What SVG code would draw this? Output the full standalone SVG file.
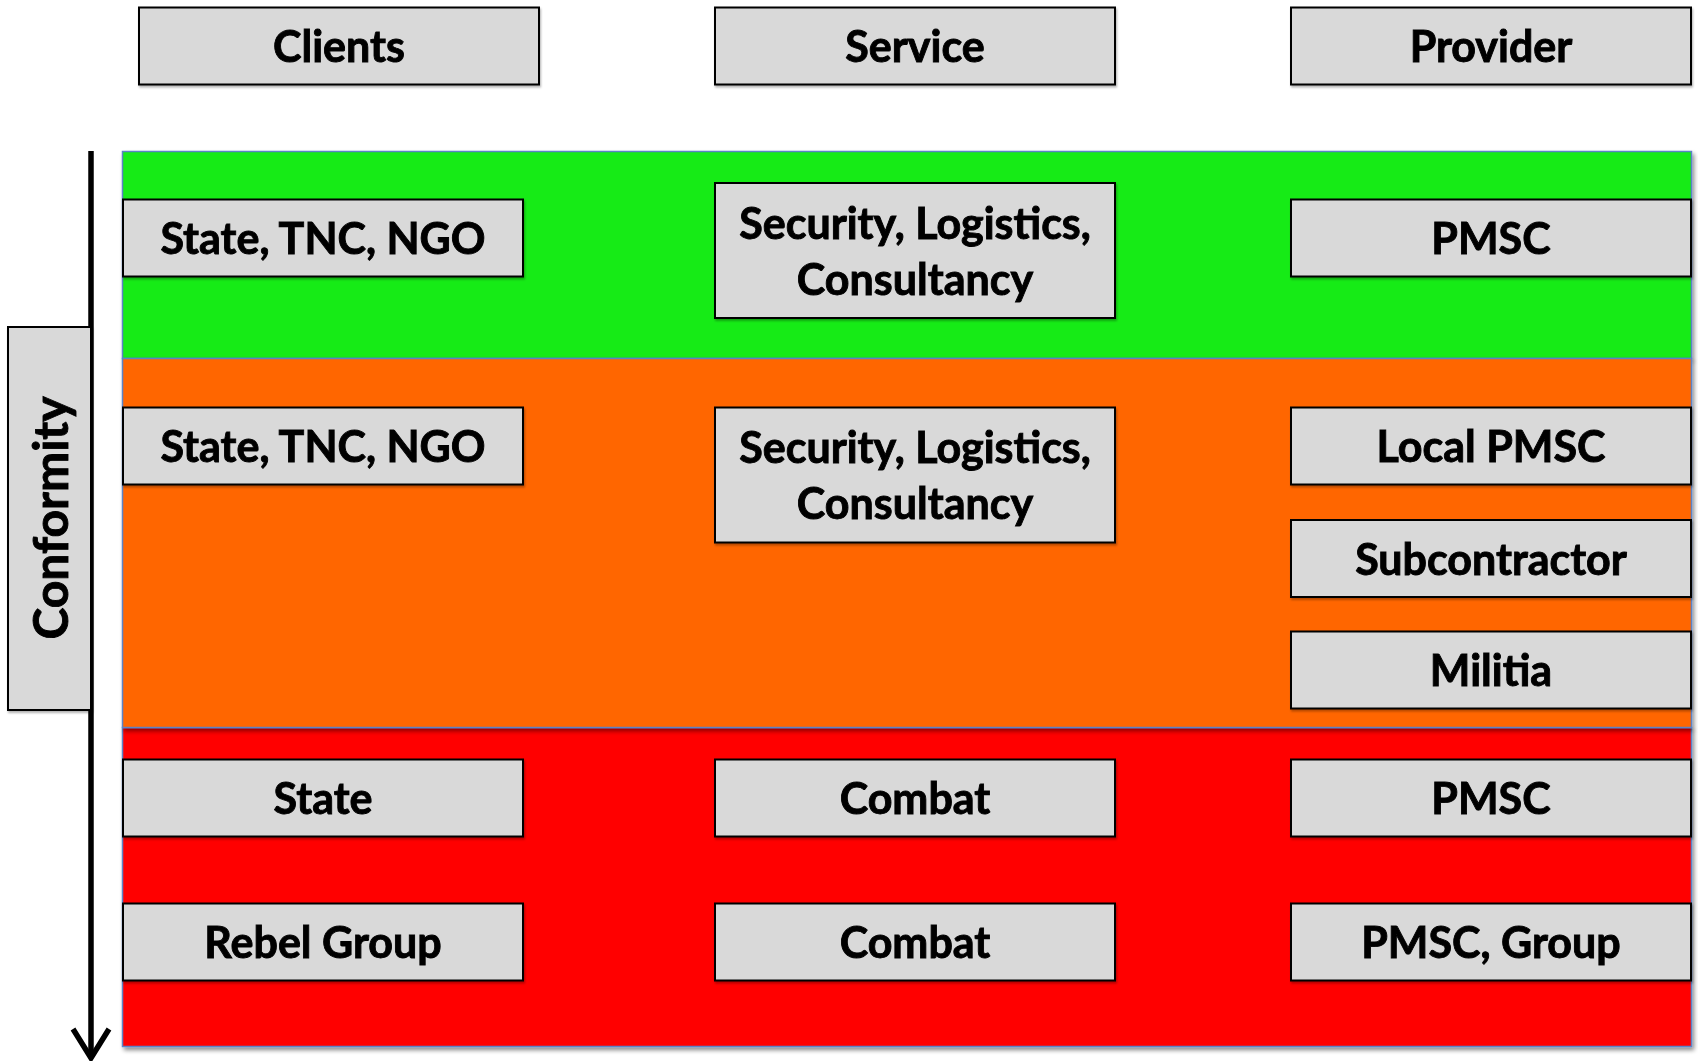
<svg xmlns="http://www.w3.org/2000/svg" width="1698" height="1061" viewBox="0 0 1698 1061">
  <style>
    .band { stroke: #5b83c6; stroke-width: 1.5; }
    .box { fill: #d9d9d9; stroke: #000; stroke-width: 2; }
    .lbl { font-family: Lato, "Open Sans", sans-serif; font-weight: 700; font-size: 43px; fill: #000; stroke: #000; stroke-width: 0.9; text-anchor: middle; }
    .axis { stroke: #000; stroke-width: 5.5; fill: none; }
  </style>
  <defs>
    <filter id="shadow" x="-5%" y="-5%" width="110%" height="120%">
      <feGaussianBlur in="SourceAlpha" stdDeviation="2"/>
      <feOffset dx="1.5" dy="2.5" result="b"/>
      <feComponentTransfer><feFuncA type="linear" slope="0.45"/></feComponentTransfer>
      <feMerge><feMergeNode/><feMergeNode in="SourceGraphic"/></feMerge>
    </filter>
    <filter id="boxshadow" x="-5%" y="-10%" width="110%" height="130%">
      <feGaussianBlur in="SourceAlpha" stdDeviation="1"/>
      <feOffset dx="1" dy="1.5"/>
      <feComponentTransfer><feFuncA type="linear" slope="0.3"/></feComponentTransfer>
      <feMerge><feMergeNode/><feMergeNode in="SourceGraphic"/></feMerge>
    </filter>
  </defs>

  <rect width="1698" height="1061" fill="#fff"/>

  <!-- conformity bands -->
  <g id="bands">
    <rect id="band-green" class="band" x="122.5" y="151.5" width="1569" height="207" fill="#12eb12" filter="url(#shadow)"/>
    <rect id="band-red" class="band" x="122.5" y="727.5" width="1569" height="319" fill="#ff0000" filter="url(#shadow)"/>
    <rect id="band-orange" class="band" x="122.5" y="358.5" width="1569" height="369" fill="#ff6600" filter="url(#shadow)"/>
  </g>

  <!-- conformity axis -->
  <g id="connectors">
    <line class="axis" x1="91" y1="151" x2="91" y2="1057"/>
    <polyline class="axis" points="73,1029 91,1058 109,1029"/>
  </g>

  <g id="conformity" filter="url(#boxshadow)">
    <rect class="box" x="8" y="327" width="83" height="383"/>
    <text class="lbl" style="font-size:48px" transform="translate(68,518) rotate(-90)">Conformity</text>
  </g>

  <!-- column headers -->
  <g id="hdr-clients" filter="url(#boxshadow)">
    <rect class="box" x="139" y="7.5" width="400" height="77"/>
    <text class="lbl" x="339" y="62">Clients</text>
  </g>
  <g id="hdr-service" filter="url(#boxshadow)">
    <rect class="box" x="715" y="7.5" width="400" height="77"/>
    <text class="lbl" x="915" y="62">Service</text>
  </g>
  <g id="hdr-provider" filter="url(#boxshadow)">
    <rect class="box" x="1291" y="7.5" width="400" height="77"/>
    <text class="lbl" x="1491" y="62">Provider</text>
  </g>

  <!-- green row -->
  <g id="g-client" filter="url(#boxshadow)">
    <rect class="box" x="123" y="199.5" width="400" height="77"/>
    <text class="lbl" x="323" y="254">State, TNC, NGO</text>
  </g>
  <g id="g-service" filter="url(#boxshadow)">
    <rect class="box" x="715" y="183" width="400" height="135"/>
    <text class="lbl" x="915" y="239">Security, Logistics,</text>
    <text class="lbl" x="915" y="295">Consultancy</text>
  </g>
  <g id="g-provider" filter="url(#boxshadow)">
    <rect class="box" x="1291" y="199.5" width="400" height="77"/>
    <text class="lbl" x="1491" y="254">PMSC</text>
  </g>

  <!-- orange row -->
  <g id="o-client" filter="url(#boxshadow)">
    <rect class="box" x="123" y="407.5" width="400" height="77"/>
    <text class="lbl" x="323" y="462">State, TNC, NGO</text>
  </g>
  <g id="o-service" filter="url(#boxshadow)">
    <rect class="box" x="715" y="407.5" width="400" height="135"/>
    <text class="lbl" x="915" y="463">Security, Logistics,</text>
    <text class="lbl" x="915" y="519">Consultancy</text>
  </g>
  <g id="o-provider-1" filter="url(#boxshadow)">
    <rect class="box" x="1291" y="407.5" width="400" height="77"/>
    <text class="lbl" x="1491" y="462">Local PMSC</text>
  </g>
  <g id="o-provider-2" filter="url(#boxshadow)">
    <rect class="box" x="1291" y="520" width="400" height="77"/>
    <text class="lbl" x="1491" y="574.5">Subcontractor</text>
  </g>
  <g id="o-provider-3" filter="url(#boxshadow)">
    <rect class="box" x="1291" y="631.5" width="400" height="77"/>
    <text class="lbl" x="1491" y="686">Militia</text>
  </g>

  <!-- red rows -->
  <g id="r1-client" filter="url(#boxshadow)">
    <rect class="box" x="123" y="759.5" width="400" height="77"/>
    <text class="lbl" x="323" y="814">State</text>
  </g>
  <g id="r1-service" filter="url(#boxshadow)">
    <rect class="box" x="715" y="759.5" width="400" height="77"/>
    <text class="lbl" x="915" y="814">Combat</text>
  </g>
  <g id="r1-provider" filter="url(#boxshadow)">
    <rect class="box" x="1291" y="759.5" width="400" height="77"/>
    <text class="lbl" x="1491" y="814">PMSC</text>
  </g>
  <g id="r2-client" filter="url(#boxshadow)">
    <rect class="box" x="123" y="903.5" width="400" height="77"/>
    <text class="lbl" x="323" y="958">Rebel Group</text>
  </g>
  <g id="r2-service" filter="url(#boxshadow)">
    <rect class="box" x="715" y="903.5" width="400" height="77"/>
    <text class="lbl" x="915" y="958">Combat</text>
  </g>
  <g id="r2-provider" filter="url(#boxshadow)">
    <rect class="box" x="1291" y="903.5" width="400" height="77"/>
    <text class="lbl" x="1491" y="958">PMSC, Group</text>
  </g>
</svg>
